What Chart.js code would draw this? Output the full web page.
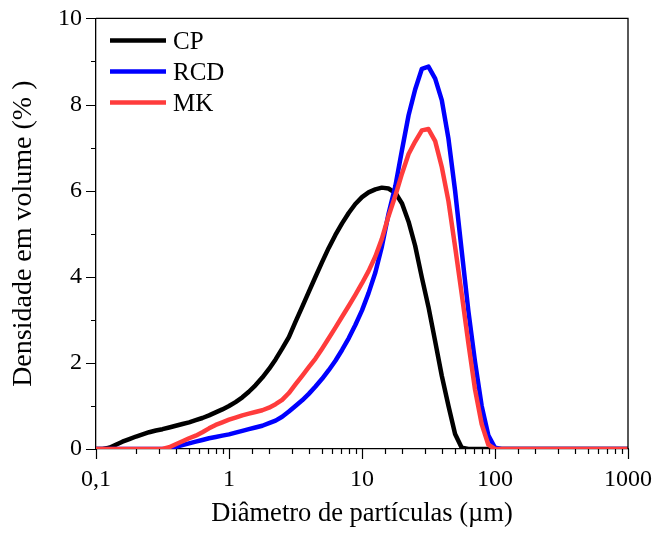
<!DOCTYPE html>
<html>
<head>
<meta charset="utf-8">
<script src="https://cdn.jsdelivr.net/npm/chart.js@4"></script>
<style>
  html, body { margin: 0; padding: 0; background: #fff; }
  canvas { display: block; }
</style>
</head>
<body>
<canvas id="psd" width="658" height="533"></canvas>
<script>
// particle size classes (µm)
const SIZES = [0.1, 0.112, 0.126, 0.141, 0.158, 0.178, 0.2, 0.224, 0.251, 0.282,
    0.316, 0.355, 0.398, 0.447, 0.501, 0.562, 0.631, 0.708, 0.794, 0.891,
    1, 1.12, 1.26, 1.41, 1.58, 1.78, 2, 2.24, 2.51, 2.82,
    3.16, 3.55, 3.98, 4.47, 5.01, 5.62, 6.31, 7.08, 7.94, 8.91,
    10, 11.2, 12.6, 14.1, 15.8, 17.8, 20, 22.4, 25.1, 28.2,
    31.6, 35.5, 39.8, 44.7, 50.1, 56.2, 63.1, 70.8, 79.4, 89.1,
    100, 112, 126, 141, 158, 178, 200, 224, 251, 282,
    316, 355, 398, 447, 501, 562, 631, 708, 794, 891, 1000];

// volume density (%) per class
const CP = [0, 0, 0.03, 0.1, 0.17, 0.23, 0.29, 0.34, 0.39, 0.43,
    0.46, 0.5, 0.54, 0.58, 0.62, 0.67, 0.72, 0.78, 0.85, 0.92,
    1.0, 1.09, 1.2, 1.33, 1.48, 1.66, 1.86, 2.08, 2.33, 2.6,
    2.95, 3.3, 3.65, 4.0, 4.34, 4.67, 4.97, 5.24, 5.48, 5.69,
    5.85, 5.96, 6.03, 6.07, 6.05, 5.95, 5.7, 5.28, 4.72, 3.98,
    3.3, 2.5, 1.7, 1.0, 0.35, 0.03, 0, 0, 0, 0,
    0, 0, 0, 0, 0, 0, 0, 0, 0, 0,
    0, 0, 0, 0, 0, 0, 0, 0, 0, 0, 0];

const RCD = [0, 0, 0, 0, 0, 0, 0, 0, 0, 0,
    0, 0, 0.05, 0.09, 0.13, 0.17, 0.21, 0.25, 0.28, 0.31,
    0.34, 0.38, 0.42, 0.46, 0.5, 0.54, 0.6, 0.66, 0.75, 0.87,
    1.0, 1.13, 1.28, 1.45, 1.63, 1.83, 2.05, 2.3, 2.57, 2.88,
    3.22, 3.62, 4.1, 4.7, 5.45, 6.1, 6.95, 7.75, 8.35, 8.83,
    8.88, 8.6, 8.1, 7.2, 6.0, 4.6, 3.2, 2.02, 1.0, 0.32,
    0.03, 0, 0, 0, 0, 0, 0, 0, 0, 0,
    0, 0, 0, 0, 0, 0, 0, 0, 0, 0, 0];

const MK = [0, 0, 0, 0, 0, 0, 0, 0, 0, 0,
    0, 0.04, 0.11, 0.18, 0.25, 0.31, 0.39, 0.48, 0.56, 0.62,
    0.68, 0.73, 0.78, 0.82, 0.86, 0.9, 0.96, 1.04, 1.14, 1.3,
    1.5, 1.7, 1.9, 2.1, 2.33, 2.57, 2.82, 3.07, 3.32, 3.58,
    3.85, 4.13, 4.47, 4.88, 5.4, 5.88, 6.4, 6.85, 7.14, 7.4,
    7.43, 7.15, 6.55, 5.75, 4.7, 3.6, 2.45, 1.38, 0.58, 0.1,
    0, 0, 0, 0, 0, 0, 0, 0, 0, 0,
    0, 0, 0, 0, 0, 0, 0, 0, 0, 0, 0];

const SERIES_LABELS = ['CP', 'RCD', 'MK'];
const SERIES_COLORS = ['#000000', '#0000ff', '#ff3c3c'];
const X_TITLE = 'Diâmetro de partículas (µm)';
const Y_TITLE = 'Densidade em volume (% )';

const FONT = "'Liberation Serif', 'Times New Roman', serif";
Chart.defaults.font.family = FONT;
Chart.defaults.font.size = 24;
Chart.defaults.color = '#000';

function points(values)
{
    return SIZES.map((s, i) => ({ x: s, y: values[i] }));
}

// box on top/right plus outward tick marks, long ones where a label is shown
const frameTicks =
{
    id: 'frameTicks',
    afterDraw(chart)
    {
        const { ctx, chartArea: a, scales } = chart;
        ctx.save();
        ctx.strokeStyle = '#000';
        ctx.lineWidth = 1.3;
        ctx.beginPath();
        ctx.moveTo(a.left, a.top);
        ctx.lineTo(a.right, a.top);
        ctx.lineTo(a.right, a.bottom);
        ctx.stroke();

        ctx.lineWidth = 1.2;
        ctx.beginPath();
        scales.x.ticks.forEach((t, i) =>
        {
            const px = Math.round(scales.x.getPixelForTick(i)) + 0.5;
            ctx.moveTo(px, a.bottom);
            ctx.lineTo(px, a.bottom + (t.label ? 10 : 5));
        });
        scales.y.ticks.forEach((t, i) =>
        {
            const py = Math.round(scales.y.getPixelForTick(i)) + 0.5;
            ctx.moveTo(a.left, py);
            ctx.lineTo(a.left - (t.label ? 10 : 5), py);
        });
        ctx.stroke();
        ctx.restore();
    }
};

// legend inside the plot, top left
const insideLegend =
{
    id: 'insideLegend',
    afterDraw(chart)
    {
        const ctx = chart.ctx;
        ctx.save();
        ctx.font = '25px ' + FONT;
        ctx.textBaseline = 'alphabetic';
        chart.data.datasets.forEach((ds, i) =>
        {
            const y = 40.5 + i * 31;
            ctx.strokeStyle = ds.borderColor;
            ctx.lineWidth = 4.5;
            ctx.beginPath();
            ctx.moveTo(110, y);
            ctx.lineTo(166, y);
            ctx.stroke();
            ctx.fillStyle = '#000';
            ctx.fillText(ds.label, 173, y + 8.5);
        });
        ctx.restore();
    }
};

const CONTEXT = document.getElementById('psd').getContext('2d');
new Chart(CONTEXT,
{
    type: 'line',
    data:
    {
        datasets:
        [
            { label: SERIES_LABELS[0], data: points(CP), borderColor: SERIES_COLORS[0], order: 2 },
            { label: SERIES_LABELS[1], data: points(RCD), borderColor: SERIES_COLORS[1], order: 1 },
            { label: SERIES_LABELS[2], data: points(MK), borderColor: SERIES_COLORS[2], order: 0 }
        ]
    },
    options:
    {
        responsive: false,
        animation: false,
        layout: { padding: { top: 16, right: 28, left: 0, bottom: 0 } },
        elements:
        {
            line: { borderWidth: 4.5, tension: 0, fill: false, borderJoinStyle: 'round' },
            point: { radius: 0 }
        },
        plugins: { legend: { display: false }, tooltip: { enabled: false } },
        scales:
        {
            x:
            {
                type: 'logarithmic',
                min: 0.1,
                max: 1000,
                grid: { display: false, tickLength: 10 },
                border: { display: true, color: '#000', width: 1.3 },
                ticks:
                {
                    autoSkip: false,
                    maxRotation: 0,
                    padding: 6,
                    callback: (v) =>
                    {
                        const e = Math.log10(v);
                        if (Math.abs(e - Math.round(e)) > 1e-6) return '';
                        return v < 1 ? '0,1' : String(Math.round(v));
                    }
                },
                title: { display: true, text: X_TITLE, font: { size: 26.5 }, padding: { top: 0, bottom: 3.5 } },
                afterFit: (scale) => { scale.height = 84; }
            },
            y:
            {
                min: 0,
                max: 10,
                grid: { display: false, tickLength: 10 },
                border: { display: true, color: '#000', width: 1.3 },
                ticks:
                {
                    stepSize: 1,
                    autoSkip: false,
                    padding: 4,
                    callback: (v) => (v % 2 === 0 ? String(v) : '')
                },
                title: { display: true, text: Y_TITLE, font: { size: 28 }, padding: { top: 7, bottom: 0 } },
                afterFit: (scale) => { scale.width = 96; }
            }
        }
    },
    plugins: [frameTicks, insideLegend]
});
</script>
</body>
</html>
